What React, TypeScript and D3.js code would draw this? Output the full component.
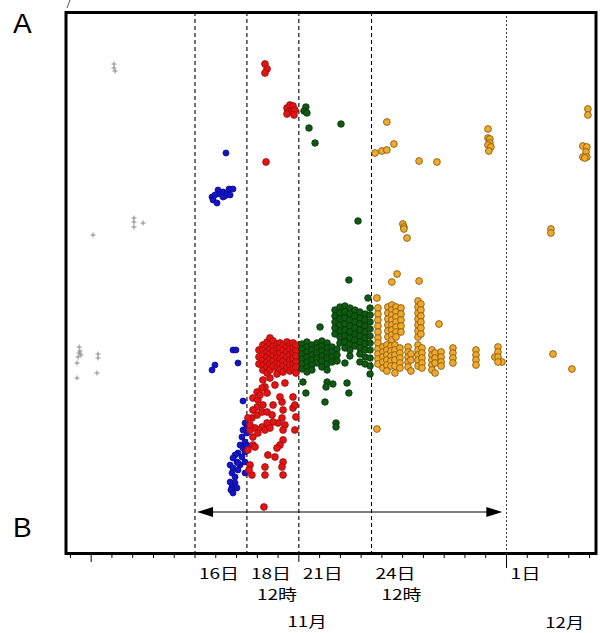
import * as d3 from "d3";
import React, {useEffect, useRef} from "react";

// x: day of November (Dec 1 = 31), y: arbitrary index (no axis labels in the original)
const grayPts: [number, number][] = [
    [12.1, 49.0], [12.1, 48.6], [12.15, 48.3],
    [13.06, 33.6], [13.06, 33.2], [13.06, 32.7], [13.5, 33.1],
    [11.09, 31.9],
    [10.42, 20.7], [10.46, 20.3], [10.42, 20.1], [10.51, 19.9], [10.37, 19.7], [10.32, 19.1],
    [11.33, 20.0], [11.33, 19.6], [11.28, 18.1], [10.32, 17.6],
];

const bluePts: [number, number][] = [
    [17.49, 40.1],
    [16.82, 35.7], [16.87, 35.4], [17.06, 35.1], [17.11, 36.4], [17.20, 36.0], [17.35, 36.2],
    [17.44, 35.8], [17.54, 36.1], [17.64, 36.5], [17.83, 36.5], [17.69, 35.9], [16.96, 35.9], [17.35, 35.7],
    [17.83, 20.4], [17.97, 20.4], [16.96, 18.9], [16.82, 18.4], [18.07, 19.1], [18.31, 15.3],
    [18.41, 13.1], [18.31, 12.4], [18.50, 12.1], [18.26, 11.7], [18.41, 11.2], [18.17, 10.9],
    [18.31, 10.6], [18.41, 10.2], [18.07, 10.1], [17.93, 9.9], [18.26, 9.7], [17.83, 9.6],
    [18.02, 9.2], [17.69, 8.9], [18.17, 8.9], [17.83, 8.6], [18.07, 8.4], [17.78, 8.1],
    [18.41, 8.1], [17.93, 7.7], [17.69, 7.2], [17.93, 7.1], [17.78, 6.7], [18.02, 6.6],
    [17.73, 6.4], [17.83, 6.1], [18.07, 9.1], [18.41, 9.2], [18.50, 10.9], [18.50, 12.7],
];

const redPts: [number, number][] = [
    [19.37, 49.0], [19.47, 48.5], [19.37, 48.1], [19.42, 39.2],
    [20.43, 44.6], [20.57, 44.9], [20.72, 44.8], [20.48, 44.2], [20.67, 44.3], [20.81, 44.4], [20.77, 43.9], [20.43, 44.0],
    [19.27, 17.4], [19.37, 16.7], [19.47, 16.1], [19.23, 16.6], [18.99, 16.2], [18.79, 15.6],
    [19.03, 15.4], [19.27, 14.9], [18.99, 14.7], [18.79, 14.4], [18.74, 13.6], [18.99, 13.9],
    [19.23, 14.2], [19.47, 14.2], [19.71, 13.9], [19.76, 14.9], [20.09, 15.7], [20.19, 15.2],
    [20.24, 14.4], [20.19, 13.6], [20.00, 13.1], [20.33, 12.9], [19.76, 13.2], [19.47, 13.1],
    [19.23, 12.7], [18.89, 12.6], [18.65, 12.4], [18.79, 11.7], [19.03, 12.1], [19.37, 12.4],
    [19.61, 12.6], [20.24, 12.4], [20.81, 12.4], [20.72, 14.6], [20.72, 15.7], [20.33, 17.1],
    [20.24, 11.4], [20.09, 10.9], [19.95, 10.6], [19.85, 9.7], [19.51, 9.9], [20.24, 9.2],
    [20.19, 8.7], [20.24, 7.9], [19.37, 8.7], [19.37, 7.9], [18.65, 8.9], [18.74, 7.9],
    [18.79, 10.9], [18.89, 10.7], [19.32, 4.7], [20.81, 14.9], [20.86, 13.7], [18.55, 13.6],
    [18.65, 12.9], [19.61, 17.6], [19.85, 16.9], [19.13, 15.9], [18.55, 10.4], [18.60, 8.4],
];

const redCols: [number, number[]][] = [
    [19.08, [20.4, 19.7, 19.0]],
    [19.27, [20.9, 20.4, 19.9, 19.4, 18.9, 18.4]],
    [19.47, [21.2, 20.7, 20.2, 19.7, 19.2, 18.7, 18.1]],
    [19.61, [21.6, 21.0, 20.5, 20.0, 19.5, 19.0, 18.4]],
    [19.76, [21.3, 20.8, 20.3, 19.8, 19.3, 18.8]],
    [19.95, [21.0, 20.5, 20.0, 19.6, 19.1, 18.6, 18.0]],
    [20.09, [21.1, 20.6, 20.1, 19.5, 19.0, 18.5]],
    [20.24, [20.9, 20.4, 19.8, 19.3, 18.8, 18.2]],
    [20.43, [21.2, 20.7, 20.2, 19.7, 19.1, 18.6]],
    [20.57, [21.0, 20.5, 19.9, 19.4, 18.9, 18.3]],
    [20.72, [21.1, 20.6, 20.1, 19.6, 19.0, 18.5]],
    [20.86, [20.9, 20.3, 19.8, 19.2, 18.7, 18.1]],
];

const greenPts: [number, number][] = [
    [21.34, 44.7], [21.25, 44.3], [21.39, 44.1], [21.49, 42.6], [23.03, 43.0], [21.78, 41.1],
    [23.85, 33.3], [23.41, 27.4], [24.33, 25.6], [22.02, 22.7],
    [21.20, 17.2], [21.34, 16.1], [22.26, 15.2], [22.36, 17.2], [22.31, 16.7], [22.64, 17.0],
    [23.32, 17.1], [23.41, 16.1], [22.79, 13.1], [22.79, 12.7], [24.43, 18.0], [23.22, 19.1],
];

const greenCols: [number, number[]][] = [
    [21.15, [21.0, 20.5, 20.0, 19.5, 19.0, 18.5]],
    [21.39, [21.2, 20.7, 20.2, 19.7, 19.2, 18.7, 18.2]],
    [21.63, [20.9, 20.4, 19.9, 19.4, 18.9, 18.4]],
    [21.87, [21.1, 20.6, 20.1, 19.6, 19.1]],
    [22.11, [21.3, 20.8, 20.3, 19.8, 19.3, 18.7]],
    [22.36, [21.1, 20.6, 20.1, 19.6, 19.0, 18.4]],
    [22.60, [20.7, 20.2, 19.7, 19.2]],
    [22.84, [20.5, 19.9, 19.3]],
    [22.74, [24.4, 23.8, 23.2, 22.6, 22.0]],
    [22.98, [24.7, 24.1, 23.5, 22.9, 22.3, 21.7, 21.1]],
    [23.22, [24.8, 24.2, 23.6, 23.0, 22.4, 21.8, 21.2, 20.6]],
    [23.46, [24.6, 24.0, 23.4, 22.8, 22.2, 21.6, 21.0, 20.4, 19.8]],
    [23.70, [24.4, 23.8, 23.2, 22.6, 22.0, 21.4, 20.8]],
    [23.94, [24.2, 23.6, 23.0, 22.4, 21.8, 21.2, 20.6, 20.0, 19.2]],
    [24.19, [24.0, 23.4, 22.8, 22.2, 21.6, 21.0, 20.4, 19.7, 19.0]],
    [24.43, [24.6, 23.9, 23.2, 22.5, 21.8, 21.1, 20.4, 19.6, 18.8]],
];

const orangePts: [number, number][] = [
    [24.76, 25.6], [25.73, 28.0], [25.48, 27.2], [26.79, 27.3], [27.75, 23.0], [24.76, 12.5],
    [30.44, 19.7], [30.78, 19.2], [33.24, 20.0], [34.15, 18.5],
    [25.24, 43.2], [25.58, 41.0], [24.67, 40.1], [25.00, 40.3], [25.24, 40.4], [26.79, 39.3], [27.65, 39.2],
    [30.11, 42.5], [30.11, 41.6], [30.20, 41.5], [30.20, 41.1], [30.11, 40.9], [30.25, 40.7], [30.15, 40.3],
    [26.01, 33.0], [26.06, 32.7], [26.06, 32.5], [26.21, 31.6],
    [34.92, 44.5], [34.92, 43.9],
    [34.68, 40.8], [34.87, 40.7], [34.83, 40.2], [34.68, 39.7], [34.87, 39.7], [34.77, 39.6],
    [33.14, 32.5], [33.14, 32.1],
];

const orangeCols: [number, number[]][] = [
    [24.81, [24.6, 24.0, 23.4, 22.8, 22.2, 21.6, 21.1]],
    [25.29, [24.7, 24.1, 23.5, 22.9, 22.3, 21.7]],
    [25.48, [24.9, 24.4, 23.9, 23.4, 22.9, 22.4, 21.9, 21.4]],
    [25.68, [24.7, 24.2, 23.7, 23.2, 22.7, 22.2, 21.7]],
    [25.92, [24.6, 24.0, 23.4, 22.8, 22.2]],
    [26.74, [25.3, 24.7, 24.1, 23.5, 22.9, 22.3, 21.7]],
    [26.88, [25.0, 24.4, 23.8, 23.2, 22.6, 22.0]],
    [24.81, [20.5, 20.0, 19.5, 19.0]],
    [25.05, [20.7, 20.2, 19.7, 19.2, 18.6]],
    [25.24, [20.9, 20.4, 19.9, 19.4, 18.9, 18.3]],
    [25.44, [20.8, 20.3, 19.8, 19.3, 18.8]],
    [25.63, [20.9, 20.4, 19.9, 19.4, 18.8, 18.1]],
    [25.87, [20.6, 20.1, 19.6, 19.1, 18.6]],
    [26.26, [20.7, 20.2, 19.7, 19.2, 18.7]],
    [26.40, [20.0, 19.4, 18.3]],
    [26.74, [20.9, 20.4, 19.9, 19.4, 18.8]],
    [26.93, [20.6, 20.1, 19.6, 19.1, 18.6]],
    [27.41, [20.4, 19.9, 19.4, 18.9, 18.4]],
    [27.56, [20.1, 19.6, 19.1, 18.1]],
    [27.85, [20.2, 19.7, 19.2, 18.8]],
    [28.42, [20.6, 20.1, 19.6, 19.1]],
    [29.53, [20.4, 19.9, 19.4, 18.9]],
    [30.59, [20.7, 20.2, 19.7, 19.2]],
];

const periodLines = [16, 18.5, 21, 24.5];
const monthLine = 31;
const dayTicks = d3.range(10, 36);
const majorTicks = [11, 21];
const row1Labels: [number, string][] = [[16, "16日"], [18.5, "18日"], [21, "21日"], [24.5, "24日"], [31, "1日"]];
const row2Labels: [number, string][] = [[18.5, "12時"], [24.5, "12時"]];
const monthLabels: [number, string][] = [[21.4, "11月"], [33.8, "12月"]];
const arrowSpan = [16.1, 30.8];
const arrowLevel = 4.2;

const flat = (cols: [number, number[]][]) =>
    cols.flatMap(([d, vs]) => vs.map(v => [d, v] as [number, number]));

const JP = "'Noto Sans CJK JP', 'Noto Sans', sans-serif";

const App = () => {
    const svgRef = useRef<SVGSVGElement>(null);

    useEffect(() => {
        const svg = d3.select(svgRef.current);
        svg.selectAll("*").remove();

        const x = d3.scaleLinear().domain([9.74, 35.31]).range([65, 596]);
        const y = d3.scaleLinear().domain([0, 54.2]).range([554, 12]);
        const top = y(54.2), bottom = y(0);

        // dashed period lines
        svg.append("g").selectAll("line").data(periodLines).enter().append("line")
            .attr("x1", d => x(d)).attr("x2", d => x(d))
            .attr("y1", top).attr("y2", bottom)
            .attr("stroke", "#000").attr("stroke-width", 1.1).attr("stroke-dasharray", "4,3");
        svg.append("line")
            .attr("x1", x(monthLine)).attr("x2", x(monthLine))
            .attr("y1", top).attr("y2", bottom)
            .attr("stroke", "#222").attr("stroke-width", 0.9).attr("stroke-dasharray", "2,2");

        // points
        const series = [
            {pts: bluePts, fill: "#1414c8", stroke: "#0a0a90", r: 3},
            {pts: [...redPts, ...flat(redCols)], fill: "#e41414", stroke: "#9a0a0a", r: 3.4},
            {pts: [...greenPts, ...flat(greenCols)], fill: "#0f5a12", stroke: "#063208", r: 3.3},
            {pts: [...orangePts, ...flat(orangeCols)], fill: "#f2a828", stroke: "#7a5410", r: 3.4},
        ];

        svg.append("g").selectAll("path").data(grayPts).enter().append("path")
            .attr("d", d => `M${x(d[0]) - 2.5},${y(d[1])}h5M${x(d[0])},${y(d[1]) - 2.5}v5`)
            .attr("stroke", "#8c8c8c").attr("stroke-width", 1).attr("fill", "none");

        series.forEach(s => {
            svg.append("g").selectAll("circle").data(s.pts).enter().append("circle")
                .attr("cx", d => x(d[0])).attr("cy", d => y(d[1])).attr("r", s.r)
                .attr("fill", s.fill).attr("stroke", s.stroke).attr("stroke-width", 0.8);
        });

        // arrow
        const ay = y(arrowLevel);
        const ax0 = x(arrowSpan[0]), ax1 = x(arrowSpan[1]);
        svg.append("line").attr("x1", ax0 + 10).attr("x2", ax1 - 10).attr("y1", ay).attr("y2", ay)
            .attr("stroke", "#000").attr("stroke-width", 1.2);
        svg.append("path").attr("d", `M${ax0},${ay}L${ax0 + 16},${ay - 5}L${ax0 + 16},${ay + 5}Z`).attr("fill", "#000");
        svg.append("path").attr("d", `M${ax1},${ay}L${ax1 - 16},${ay - 5}L${ax1 - 16},${ay + 5}Z`).attr("fill", "#000");

        // frame
        svg.append("rect").attr("x", 66).attr("y", top + 0.5).attr("width", 596 - 66).attr("height", bottom - top - 1)
            .attr("fill", "none").attr("stroke", "#000").attr("stroke-width", 3);
        svg.append("line").attr("x1", 67).attr("y1", 8).attr("x2", 70).attr("y2", 0)
            .attr("stroke", "#555").attr("stroke-width", 1);

        // ticks
        svg.append("g").selectAll("line").data(dayTicks).enter().append("line")
            .attr("x1", d => x(d)).attr("x2", d => x(d))
            .attr("y1", bottom).attr("y2", d => bottom + (d === monthLine ? 14 : majorTicks.includes(d) ? 8 : 4))
            .attr("stroke", "#000").attr("stroke-width", 1);

        // labels
        const fs = 14.5;
        svg.append("g").selectAll("text").data(row1Labels).enter().append("text")
            .attr("x", d => x(d[0]) + 4).attr("y", 579)
            .attr("textLength", d => d[1].length === 2 ? 30 : 40).attr("lengthAdjust", "spacingAndGlyphs")
            .attr("font-family", JP).attr("font-size", fs).attr("fill", "#000").text(d => d[1]);
        svg.append("g").selectAll("text").data(row2Labels).enter().append("text")
            .attr("x", d => x(d[0]) + 10).attr("y", 600)
            .attr("textLength", 40).attr("lengthAdjust", "spacingAndGlyphs")
            .attr("font-family", JP).attr("font-size", fs).attr("fill", "#000").text(d => d[1]);
        svg.append("g").selectAll("text").data(monthLabels).enter().append("text")
            .attr("x", d => x(d[0])).attr("y", (d, i) => i === 0 ? 627 : 628).attr("text-anchor", "middle")
            .attr("textLength", 39).attr("lengthAdjust", "spacingAndGlyphs")
            .attr("font-family", JP).attr("font-size", fs).attr("fill", "#000").text(d => d[1]);

        svg.append("text").attr("x", 13).attr("y", 33).attr("font-family", "'Liberation Sans', Arial, sans-serif")
            .attr("font-size", 28).attr("fill", "#000").text("A");
        svg.append("text").attr("x", 13).attr("y", 537).attr("font-family", "'Liberation Sans', Arial, sans-serif")
            .attr("font-size", 28).attr("fill", "#000").text("B");
    }, []);

    return (
        <svg ref={svgRef} width={603} height={633}
             style={{position: "absolute", left: 0, top: 0, background: "#fff"}}/>
    );
};

export default App;
